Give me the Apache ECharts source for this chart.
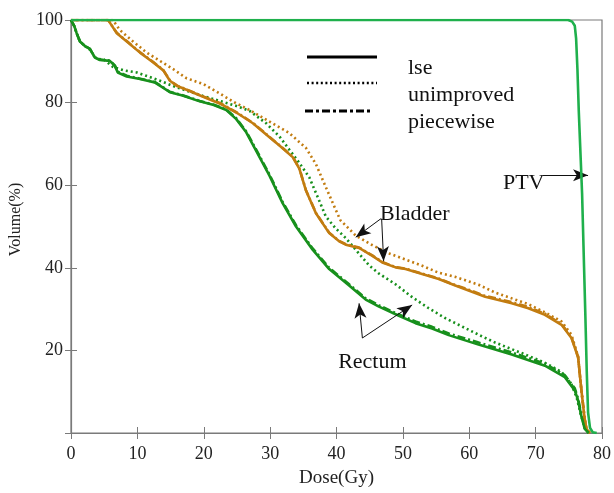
<!DOCTYPE html>
<html>
<head>
<meta charset="utf-8">
<script src="https://cdn.jsdelivr.net/npm/echarts@6/dist/echarts.min.js"></script>
<style>html,body{margin:0;padding:0;background:#fff}#c{width:614px;height:493px}</style>
</head>
<body>
<div id="c"></div>
<script>
// ---- data (dose Gy, volume %) ----
var xTicks = [0, 10, 20, 30, 40, 50, 60, 70, 80];
var yTicks = [20, 40, 60, 80, 100];

var rectumLse = [[0,100],[0.5,98.5],[0.85,96.8],[1.35,94.8],[2.1,93.7],[2.85,93.0],[3.6,90.9],[4.35,90.3],[5.85,90.1],[6.6,88.9],[7.05,87.3],[8.4,86.3],[10.4,85.7],[12.6,84.9],[13.8,83.7],[14.9,82.5],[16.8,81.7],[19.4,80.3],[21.5,79.4],[23.4,78.2],[24.9,76.0],[26.4,72.8],[27.9,68.3],[29.9,62.3],[31.9,55.6],[33.9,50.0],[36.4,44.4],[38.9,39.7],[41.9,35.7],[44.4,32.3],[46.4,30.6],[49.4,28.4],[51.9,26.6],[54.4,25.3],[56.9,23.7],[61.4,21.4],[66.4,19.0],[71.4,16.3],[74.4,13.5],[75.9,10.3],[76.4,7.9],[76.9,4.0],[77.4,1.0],[78.0,0]];
var rectumUnimproved = [[0,100],[0.5,98.5],[0.85,96.8],[1.35,94.8],[2.1,93.7],[2.85,92.8],[3.85,90.6],[5.0,90.4],[6.35,88.6],[8.0,87.8],[9.9,87.3],[11.5,86.4],[13.4,85.3],[15.4,84.0],[17.4,82.9],[19.9,81.6],[22.4,80.4],[24.9,79.2],[26.9,78.0],[29.4,75.0],[31.4,71.8],[32.9,68.6],[34.4,65.4],[35.9,61.9],[37.2,57.0],[38.4,52.4],[39.9,49.5],[41.4,47.2],[43.2,43.8],[44.9,40.6],[46.4,38.6],[48.9,36.0],[51.4,32.9],[53.9,30.2],[56.4,27.8],[58.9,25.8],[61.4,23.8],[63.9,21.9],[66.4,20.3],[68.9,18.7],[71.4,17.0],[73.9,14.8],[75.4,11.8],[76.2,8.5],[76.8,4.5],[77.4,1.2],[78.0,0]];
var rectumPiecewise = [[0,100],[0.5,98.5],[0.85,96.8],[1.35,94.8],[2.1,93.7],[2.85,93.0],[3.6,90.9],[4.35,90.4],[5.85,90.2],[6.6,89.0],[7.05,87.5],[8.4,86.5],[10.4,85.8],[12.6,85.0],[13.8,83.8],[14.9,82.6],[16.8,81.8],[19.4,80.4],[21.5,79.5],[23.4,78.3],[24.9,76.2],[26.4,73.0],[27.9,68.6],[29.9,62.6],[31.9,55.9],[33.9,50.3],[36.4,44.7],[38.9,40.0],[41.9,36.0],[44.4,32.6],[46.4,30.9],[49.4,28.7],[51.9,27.0],[54.4,25.7],[56.9,24.1],[61.4,21.9],[66.4,19.5],[71.4,16.8],[74.4,14.0],[75.9,10.8],[76.4,8.3],[76.9,4.4],[77.4,1.3],[78.0,0]];

var bladderLse = [[0,100],[5.6,100],[6.0,99.0],[6.9,96.8],[8.4,94.8],[10.4,92.1],[12.4,89.7],[13.9,87.8],[14.9,85.3],[16.0,84.0],[17.4,83.1],[19.9,81.4],[22.4,79.8],[24.9,77.6],[27.4,75.0],[29.9,71.6],[31.4,69.6],[33.4,66.8],[34.4,64.0],[35.4,58.7],[36.9,53.2],[38.9,48.4],[40.4,46.4],[41.4,45.6],[43.4,44.8],[45.4,42.9],[46.9,41.3],[48.9,40.1],[50.4,39.7],[52.9,38.5],[55.4,37.3],[57.9,35.7],[59.9,34.5],[62.4,33.0],[66.4,31.4],[68.9,30.2],[71.4,28.6],[73.9,26.2],[75.4,23.0],[76.4,18.3],[76.9,10.3],[77.4,3.2],[77.7,0.8],[78.2,0]];
var bladderUnimproved = [[0,100],[6.3,100],[7.35,97.6],[9.35,94.8],[11.4,92.1],[13.4,90.1],[15.4,88.1],[17.4,85.9],[19.9,84.5],[22.4,82.2],[24.9,79.8],[26.9,78.2],[29.9,75.4],[32.9,72.6],[35.4,69.0],[36.9,65.1],[38.4,59.5],[39.9,54.0],[40.6,51.5],[42.9,47.8],[45.4,45.5],[47.7,43.6],[50.4,42.0],[52.9,40.5],[55.4,38.8],[57.9,37.8],[61.4,35.9],[63.9,34.0],[66.4,32.6],[68.9,31.2],[71.4,29.2],[73.9,27.0],[75.4,23.8],[76.4,18.5],[76.9,10.3],[77.4,3.2],[77.7,0.8],[78.2,0]];
var bladderPiecewise = [[0,100],[5.6,100],[6.0,99.0],[6.9,96.9],[8.4,94.9],[10.4,92.2],[12.4,89.8],[13.9,87.9],[14.9,85.4],[16.0,84.1],[17.4,83.2],[19.9,81.5],[22.4,79.9],[24.9,77.7],[27.4,75.1],[29.9,71.7],[31.4,69.7],[33.4,66.9],[34.4,64.1],[35.4,58.8],[36.9,53.3],[38.9,48.5],[40.4,46.5],[41.4,45.7],[43.4,44.9],[45.4,43.0],[46.9,41.4],[48.9,40.2],[50.4,39.8],[52.9,38.6],[55.4,37.4],[57.9,35.8],[59.9,34.7],[62.4,33.2],[66.4,31.7],[68.9,30.5],[71.4,28.9],[73.9,26.4],[75.4,23.2],[76.4,18.4],[76.9,10.4],[77.4,3.3],[77.7,0.8],[78.2,0]];

var ptv = [[0,100],[74.9,100],[75.5,99.6],[75.9,98.6],[76.1,95.5],[76.3,88],[76.5,78],[76.8,66],[77.0,58],[77.3,40],[77.5,28],[77.7,15],[77.9,5],[78.2,1.2],[78.6,0.2],[79.2,0]];

// annotation arrows [from, to] in data units
var bladderArrows = [[[46.7,51.9],[42.9,47.4]], [[46.8,51.9],[47.1,41.6]]];
var rectumArrows = [[[43.9,23.0],[43.4,31.4]], [[43.9,23.0],[51.4,31.0]]];
var ptvArrows = [[[71.1,62.4],[77.9,62.4]]];
var annotations = [{name:'Bladder', coord:[51.8,52.9]}, {name:'Rectum', coord:[45.4,17.1]}, {name:'PTV', coord:[68.2,60.5]}];

var legendItems = ['lse', 'unimproved', 'piecewise'];

// ---- styles ----
var GREEN = '#17901c';
var PTVGREEN = '#1fb04c';
var ORANGE = '#c27c10';
var AXIS = '#7a7a7a';
var FONT = '"Liberation Serif", "DejaVu Serif", serif';
var DOT = [2, 3];
var DASHDOT = [8, 3, 2, 3];

function mkSeries(name, data, color, type, z) {
  return {
    name: name, type: 'line', data: data, showSymbol: false, symbol: 'none',
    xAxisIndex: 0, yAxisIndex: 0, z: z || 2, silent: true, animation: false,
    lineStyle: {color: color, width: 2.6, type: type, cap: 'butt'}
  };
}

var arrowLines = [].concat(bladderArrows, rectumArrows, ptvArrows).map(function (a) {
  return [{coord: a[0]}, {coord: a[1]}];
});

var chart = echarts.init(document.getElementById('c'), null, {renderer: 'canvas'});
var lo = {
  animation: false,
  backgroundColor: '#fff',
  textStyle: {fontFamily: FONT},
  grid: {left: 71, right: 10, top: 20, bottom: 53, show: true, borderColor: AXIS, borderWidth: 1.2, containLabel: false},
  xAxis: [{
    type: 'value', min: 0, max: 80, interval: 10, position: 'bottom',
    name: 'Dose(Gy)', nameLocation: 'middle', nameGap: 36,
    nameTextStyle: {fontFamily: FONT, fontSize: 19, color: '#222'},
    axisLine: {show: true, lineStyle: {color: AXIS, width: 1.2}},
    axisTick: {show: true, inside: true, length: 6, lineStyle: {color: AXIS}},
    axisLabel: {fontFamily: FONT, fontSize: 18, color: '#222', margin: 12,
      formatter: function (v) { return xTicks.indexOf(v) >= 0 ? String(v) : ''; }},
    splitLine: {show: false}
  }, {
    type: 'value', min: 0, max: 80, interval: 10, position: 'top',
    axisLine: {show: false}, axisTick: {show: true, inside: true, length: 6, lineStyle: {color: AXIS}},
    axisLabel: {show: false}, splitLine: {show: false}
  }],
  yAxis: [{
    type: 'value', min: 0, max: 100, interval: 20, position: 'left',
    name: 'Volume(%)', nameLocation: 'middle', nameGap: 47,
    nameTextStyle: {fontFamily: FONT, fontSize: 16, color: '#222', padding: [0, 0, 0, 14]},
    axisLine: {show: true, lineStyle: {color: AXIS, width: 1.2}},
    axisTick: {show: true, inside: true, length: 6, lineStyle: {color: AXIS}},
    axisLabel: {fontFamily: FONT, fontSize: 18, color: '#222', margin: 8,
      formatter: function (v) { return yTicks.indexOf(v) >= 0 ? String(v) : ''; }},
    splitLine: {show: false}
  }, {
    type: 'value', min: 0, max: 100, interval: 20, position: 'right',
    axisLine: {show: false}, axisTick: {show: true, inside: true, length: 6, lineStyle: {color: AXIS}},
    axisLabel: {show: false}, splitLine: {show: false}
  }],
  series: [
    mkSeries('Rectum unimproved', rectumUnimproved, GREEN, DOT, 2),
    mkSeries('Bladder unimproved', bladderUnimproved, ORANGE, DOT, 2),
    mkSeries('Bladder piecewise', bladderPiecewise, ORANGE, DASHDOT, 3),
    mkSeries('Bladder lse', bladderLse, ORANGE, 'solid', 4),
    mkSeries('Rectum piecewise', rectumPiecewise, GREEN, DASHDOT, 3),
    mkSeries('Rectum lse', rectumLse, GREEN, 'solid', 4),
    (function () {
      var s = mkSeries('PTV', ptv, PTVGREEN, 'solid', 5);
      s.markLine = {
        silent: true, animation: false, precision: 3,
        symbol: ['none', 'arrow'], symbolSize: [9, 15],
        label: {show: false},
        lineStyle: {color: '#111', width: 1, type: 'solid'},
        itemStyle: {color: '#111'},
        emphasis: {disabled: true},
        data: arrowLines
      };
      s.markPoint = {
        silent: true, animation: false, symbol: 'circle', symbolSize: 0,
        itemStyle: {color: 'transparent'},
        label: {show: true, position: 'inside', fontFamily: FONT, fontSize: 22, color: '#111',
          formatter: function (p) { return p.name; }},
        data: annotations.map(function (a) { return {name: a.name, coord: a.coord}; })
      };
      return s;
    })()
  ],
  graphic: [
    {type: 'line', shape: {x1: 307, y1: 57, x2: 377, y2: 57}, style: {stroke: '#000', lineWidth: 3}},
    {type: 'line', shape: {x1: 307, y1: 83, x2: 377, y2: 83}, style: {stroke: '#000', lineWidth: 2.4, lineDash: [2, 2.6]}},
    {type: 'line', shape: {x1: 305, y1: 111, x2: 373, y2: 111}, style: {stroke: '#000', lineWidth: 3, lineDash: [8, 3, 3, 3]}},
    {type: 'text', left: 408, top: 57, style: {text: legendItems[0], font: '22px ' + FONT, fill: '#111'}},
    {type: 'text', left: 408, top: 84, style: {text: legendItems[1], font: '22px ' + FONT, fill: '#111'}},
    {type: 'text', left: 408, top: 111, style: {text: legendItems[2], font: '22px ' + FONT, fill: '#111'}}
  ]
};
chart.setOption(lo);
</script>
</body>
</html>
